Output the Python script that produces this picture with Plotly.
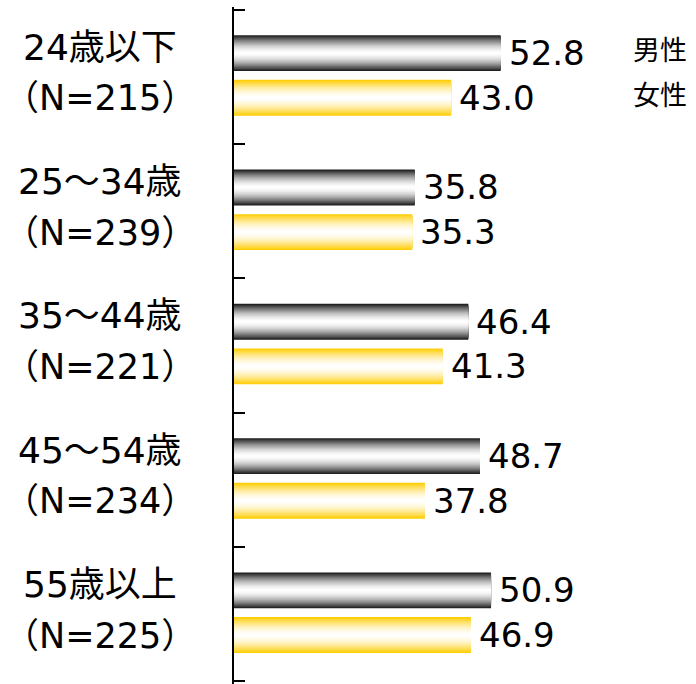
import plotly.graph_objects as go

FONT: str = 'DejaVu Sans, Noto Sans CJK JP, sans-serif'

ages = ['24歳以下', '25〜34歳', '35〜44歳', '45〜54歳', '55歳以上']
sample_sizes = [215, 239, 221, 234, 225]
male_vals = [52.8, 35.8, 46.4, 48.7, 50.9]
female_vals = [43.0, 35.3, 41.3, 37.8, 46.9]
series_names = ['男性', '女性']

BAR_W = 0.267
OFFSETS = [-0.31, 0.022]
EDGE_COLORS = [(25, 25, 25), (255, 204, 0)]
N_LAYERS = 20
PX_PER_UNIT = 5.05
PLOT_W = 696 - 234
PAD = 0.02


def shade(rgb, t: float, power: float = 1.7) -> str:
    f = max(0.0, min(1.0, t)) ** power
    r, g, b = [round(255 + (c - 255) * f) for c in rgb]
    return f'rgb({r},{g},{b})'


positions = list(range(len(ages)))
boundaries = [p - 0.5 for p in positions] + [positions[-1] + 0.5]

fig = go.Figure()

# fake the vertical gradient by stacking narrower and lighter bars
for vals, off, edge in zip([male_vals, female_vals], OFFSETS, EDGE_COLORS):
    for k in range(N_LAYERS):
        w = BAR_W * (N_LAYERS - k) / N_LAYERS
        fig.add_trace(go.Bar(
            x=vals,
            y=positions,
            orientation='h',
            width=w,
            offset=off + (BAR_W - w) / 2,
            marker_color=shade(edge, (N_LAYERS - k - 0.2) / N_LAYERS),
            marker_line_width=0,
            showlegend=False,
            hoverinfo='skip' if k else 'x',
        ))

annotations = []
for i, (age, n) in enumerate(zip(ages, sample_sizes)):
    annotations.append(dict(x=-0.29, xref='paper', y=i - 0.22, yref='y', text=age,
                            showarrow=False, xanchor='center', yanchor='middle',
                            font=dict(size=36, family=FONT, color='black')))
    annotations.append(dict(x=-0.29, xref='paper', y=i + 0.16, yref='y', text=f'（N={n}）',
                            showarrow=False, xanchor='center', yanchor='middle',
                            font=dict(size=35, family=FONT, color='black')))
    for vals, off in zip([male_vals, female_vals], OFFSETS):
        annotations.append(dict(x=vals[i], y=i + off + BAR_W / 2, text=f'{vals[i]:.1f}',
                                showarrow=False, xanchor='left', yanchor='middle', xshift=6,
                                font=dict(size=34, family=FONT, color='black')))

for name, off in zip(series_names, OFFSETS):
    annotations.append(dict(x=(660 - 234) / PLOT_W, xref='paper', y=off + BAR_W / 2 - 0.02,
                            yref='y', text=name, showarrow=False, xanchor='center',
                            yanchor='middle', font=dict(size=27, family=FONT, color='black')))

fig.update_layout(
    width=696,
    height=684,
    margin=dict(l=234, r=0, t=7, b=0),
    barmode='overlay',
    plot_bgcolor='white',
    paper_bgcolor='white',
    annotations=annotations,
    xaxis=dict(range=[0, PLOT_W / PX_PER_UNIT], visible=False, showgrid=False, zeroline=False),
    yaxis=dict(
        range=[boundaries[-1] + PAD, boundaries[0] - PAD],
        tickmode='array',
        tickvals=boundaries,
        showline=True,
        linecolor='black',
        linewidth=2,
        ticks='inside',
        ticklen=11,
        tickwidth=2,
        tickcolor='black',
        showticklabels=False,
        showgrid=False,
        zeroline=False,
    ),
)

fig.write_html('out.html', config={'displayModeBar': False},
               post_script="document.body.style.margin='0';")
